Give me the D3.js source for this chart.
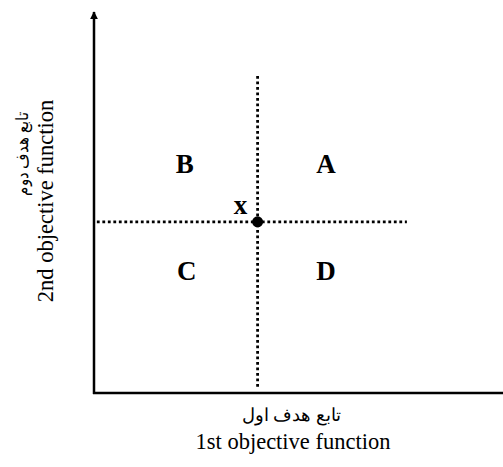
<!DOCTYPE html>
<html><head><meta charset="utf-8">
<script src="https://cdn.jsdelivr.net/npm/d3@7"></script>
<style>body{margin:0;background:#fff}svg{display:block}</style>
</head><body>
<script>
// Data
const regionLabels = ["A", "B", "C", "D"];
const regionX = [5.67, 2.22, 2.27, 5.67];
const regionY = [6.0, 6.0, 3.2, 3.2];
const pointX = [4.0];
const pointY = [4.48];
const pointLabel = ["x"];
const vLineY = [0.15, 8.3];
const hLineX = [0.07, 7.65];
const xTitle = ["تابع هدف اول", "1st objective function"];
const yTitle = ["تابع هدف دوم", "2nd objective function"];

const W = 503, H = 467;
const svg = d3.select("body").append("svg").attr("width", W).attr("height", H);
const x = d3.scaleLinear().domain([0, 10]).range([94, 503]);
const y = d3.scaleLinear().domain([0, 10]).range([393, 11]);

svg.append("defs").append("marker").attr("id", "arr")
  .attr("viewBox", "0 0 10 10").attr("refX", 9).attr("refY", 5)
  .attr("markerWidth", 8).attr("markerHeight", 8).attr("markerUnits", "userSpaceOnUse")
  .attr("orient", "auto")
  .append("path").attr("d", "M0,0L10,5L0,10z").attr("fill", "#000");

// axes
svg.append("line").attr("x1", x(0)).attr("x2", x(0)).attr("y1", y(0) + 1).attr("y2", y(10) + 1)
  .attr("stroke", "#000").attr("stroke-width", 2.5).attr("marker-end", "url(#arr)");
svg.append("line").attr("x1", x(0) - 1).attr("x2", x(10)).attr("y1", y(0)).attr("y2", y(0))
  .attr("stroke", "#000").attr("stroke-width", 2.5);

// dotted lines
const dot = { stroke: "#000", "stroke-width": 2.8, "stroke-dasharray": "2.8,2.7" };
const vl = svg.append("line").attr("x1", x(pointX[0])).attr("x2", x(pointX[0]))
  .attr("y1", y(vLineY[1])).attr("y2", y(vLineY[0]));
const hl = svg.append("line").attr("y1", y(pointY[0])).attr("y2", y(pointY[0]))
  .attr("x1", x(hLineX[0])).attr("x2", x(hLineX[1]));
[vl, hl].forEach(l => Object.entries(dot).forEach(([k, v]) => l.attr(k, v)));

// point
svg.append("circle").attr("cx", x(pointX[0])).attr("cy", y(pointY[0])).attr("r", 5.5).attr("fill", "#000");
svg.append("text").attr("x", x(pointX[0]) - 17).attr("y", y(pointY[0]) - 8)
  .attr("text-anchor", "middle").attr("font-family", "Liberation Serif, Times New Roman, serif")
  .attr("font-weight", "bold").attr("font-size", 27).text(pointLabel[0]);

// region labels
svg.selectAll("text.reg").data(regionLabels).enter().append("text").attr("class", "reg")
  .attr("x", (d, i) => x(regionX[i])).attr("y", (d, i) => y(regionY[i]))
  .attr("dy", "0.35em").attr("text-anchor", "middle")
  .attr("font-family", "Liberation Serif, Times New Roman, serif")
  .attr("font-weight", "bold").attr("font-size", 27).text(d => d);

// x titles
svg.append("text").attr("x", 291).attr("y", 421).attr("text-anchor", "middle")
  .attr("font-family", "Liberation Serif, DejaVu Serif, serif").attr("font-size", 18)
  .attr("direction", "rtl").style("unicode-bidi", "plaintext").text(xTitle[0]);
svg.append("text").attr("x", 293).attr("y", 449).attr("text-anchor", "middle")
  .attr("font-family", "Liberation Serif, Times New Roman, serif").attr("font-size", 22.5).text(xTitle[1]);

// y titles
svg.append("text").attr("transform", "translate(28,154) rotate(-90)").attr("text-anchor", "middle")
  .attr("font-family", "Liberation Serif, DejaVu Serif, serif").attr("font-size", 17)
  .attr("textLength", 84).attr("lengthAdjust", "spacingAndGlyphs")
  .text(yTitle[0]);
svg.append("text").attr("transform", "translate(53,201) rotate(-90)").attr("text-anchor", "middle")
  .attr("font-family", "Liberation Serif, Times New Roman, serif").attr("font-size", 22.5).text(yTitle[1]);
</script>
</body></html>
